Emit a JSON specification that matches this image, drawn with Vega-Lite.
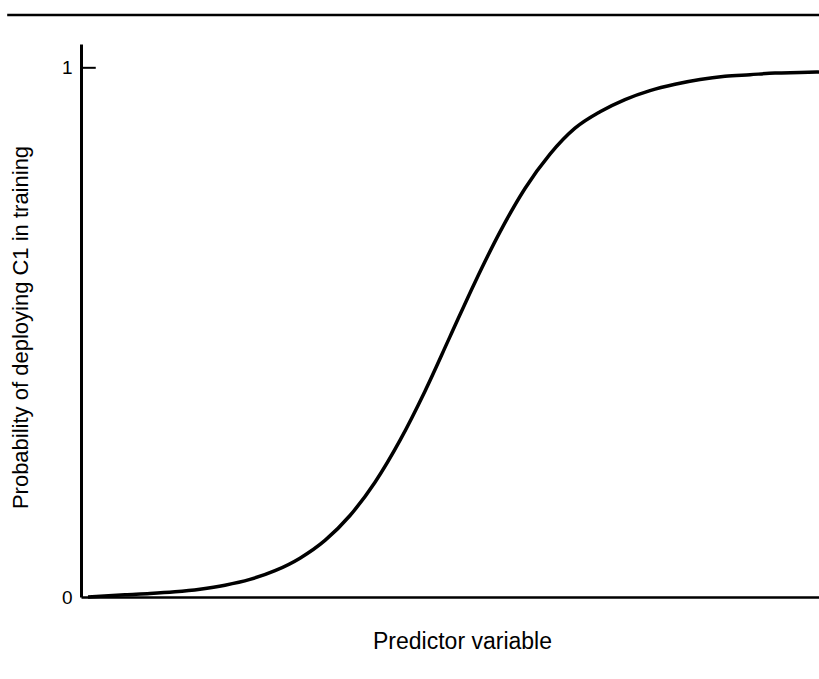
{
  "$schema": "https://vega.github.io/schema/vega-lite/v6.json",
  "autosize": "none",
  "width": 738,
  "height": 553,
  "padding": {"left": 81, "top": 44, "right": 0, "bottom": 82},
  "background": "white",
  "config": {
    "view": {"stroke": null},
    "font": "Liberation Sans"
  },
  "layer": [
    {
      "data": {"values": [{"x0": -10, "x1": 100, "y": 1.1}]},
      "mark": {"type": "rule", "clip": false, "strokeWidth": 2.5, "color": "black"},
      "encoding": {
        "x": {"field": "x0", "type": "quantitative"},
        "x2": {"field": "x1"},
        "y": {"field": "y", "type": "quantitative"}
      }
    },
    {
      "data": {"values": [{"x0": 0, "x1": 2, "y": 1}]},
      "mark": {"type": "rule", "clip": false, "strokeWidth": 2, "color": "black"},
      "encoding": {
        "x": {"field": "x0", "type": "quantitative"},
        "x2": {"field": "x1"},
        "y": {"field": "y", "type": "quantitative"}
      }
    },
    {
      "data": {"values": [
        {"u": 0.95, "p": 0.0},
        {"u": 5.96, "p": 0.0043},
        {"u": 9.35, "p": 0.0065},
        {"u": 12.74, "p": 0.0098},
        {"u": 16.12, "p": 0.0148},
        {"u": 19.51, "p": 0.0223},
        {"u": 22.90, "p": 0.0333},
        {"u": 26.29, "p": 0.0497},
        {"u": 29.67, "p": 0.0734},
        {"u": 33.06, "p": 0.107},
        {"u": 36.45, "p": 0.154},
        {"u": 39.84, "p": 0.217},
        {"u": 43.22, "p": 0.296},
        {"u": 46.61, "p": 0.389},
        {"u": 50.00, "p": 0.492},
        {"u": 53.39, "p": 0.595},
        {"u": 56.78, "p": 0.690},
        {"u": 60.16, "p": 0.772},
        {"u": 63.55, "p": 0.837},
        {"u": 66.94, "p": 0.886},
        {"u": 70.33, "p": 0.917},
        {"u": 73.71, "p": 0.940},
        {"u": 77.10, "p": 0.957},
        {"u": 80.49, "p": 0.969},
        {"u": 83.88, "p": 0.978},
        {"u": 87.26, "p": 0.984},
        {"u": 90.65, "p": 0.987},
        {"u": 94.04, "p": 0.990},
        {"u": 97.43, "p": 0.991},
        {"u": 100, "p": 0.992}
      ]},
      "mark": {"type": "line", "color": "black", "strokeWidth": 3.5, "interpolate": "monotone", "clip": false},
      "encoding": {
        "x": {
          "field": "u", "type": "quantitative",
          "scale": {"domain": [0, 100], "nice": false, "zero": false},
          "axis": {
            "title": "Predictor variable",
            "labels": false, "ticks": false, "grid": false,
            "domain": true, "domainColor": "black", "domainWidth": 2.5,
            "titleFont": "Liberation Sans", "titleFontSize": 23, "titleFontWeight": "normal", "titleColor": "black",
            "titleX": 381, "titleY": 51, "titleBaseline": "alphabetic", "titleAlign": "center"
          }
        },
        "y": {
          "field": "p", "type": "quantitative",
          "scale": {"domain": [0, 1.045], "nice": false},
          "axis": {
            "title": "Probability of deploying C1 in training",
            "values": [0, 1], "format": "d",
            "ticks": false, "grid": false,
            "domain": true, "domainColor": "black", "domainWidth": 3,
            "labelFont": "Liberation Sans", "labelFontSize": 19, "labelColor": "black", "labelPadding": 9,
            "titleFont": "Liberation Sans", "titleFontSize": 22, "titleFontWeight": "normal", "titleColor": "black",
            "titleX": -61, "titleY": 283, "titleBaseline": "middle", "titleAlign": "center", "titleAngle": -90
          }
        }
      }
    }
  ]
}
